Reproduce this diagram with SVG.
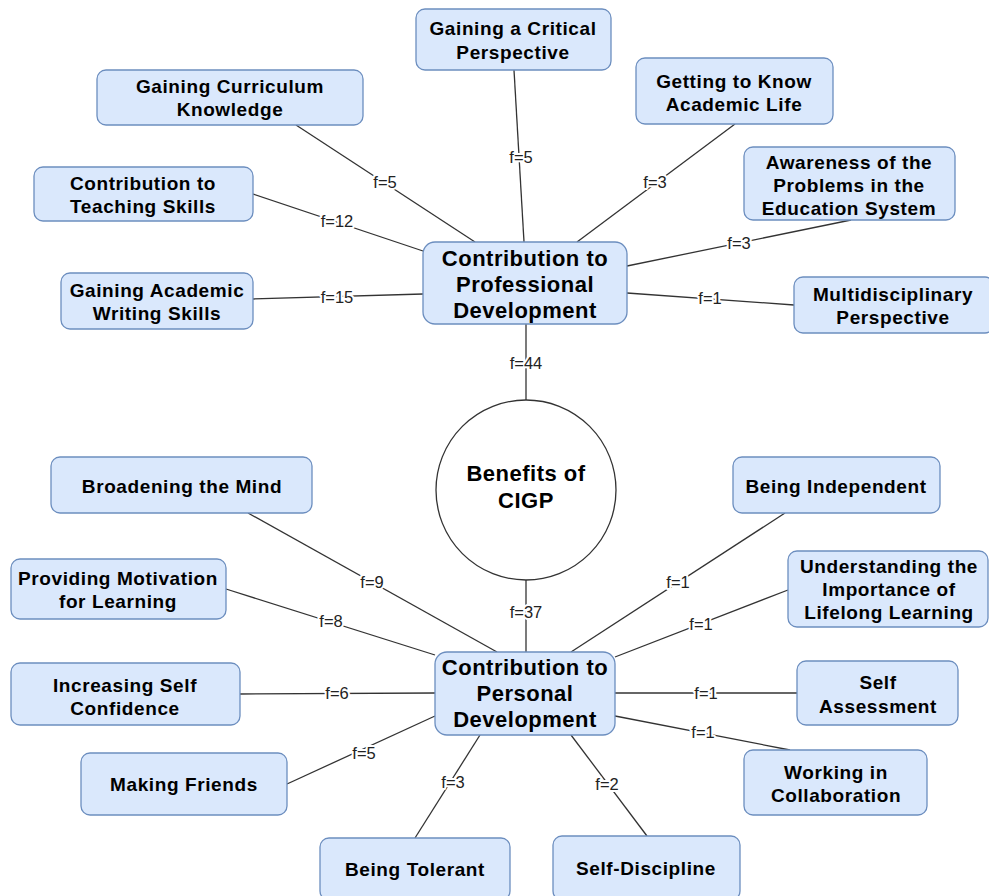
<svg xmlns="http://www.w3.org/2000/svg" width="989" height="896" viewBox="0 0 989 896">
<style>
.n rect{fill:#dae8fc;stroke:#6c8ebf;stroke-width:1.3}
.n text{font-family:"Liberation Sans",Arial,sans-serif;font-weight:bold;font-size:19px;letter-spacing:0.6px;fill:#000;text-anchor:middle}
.c text{font-size:22px;letter-spacing:0.5px}
.e line{stroke:#333;stroke-width:1.3}
.e text{font-family:"Liberation Sans",Arial,sans-serif;font-size:16.5px;fill:#222;text-anchor:middle;stroke:#fff;stroke-width:4px;paint-order:stroke;stroke-linejoin:round}
</style>
<rect width="989" height="896" fill="#fff"/>
<g class="e" id="connectors">
<line x1="514" y1="70" x2="524" y2="242"/>
<line x1="296" y1="125" x2="475" y2="242"/>
<line x1="735" y1="124" x2="577" y2="242"/>
<line x1="253" y1="194" x2="423" y2="251"/>
<line x1="851" y1="220" x2="627" y2="266"/>
<line x1="253" y1="299" x2="423" y2="294"/>
<line x1="794" y1="305" x2="627" y2="293"/>
<line x1="526" y1="324" x2="526" y2="403"/>
<line x1="526" y1="577" x2="526" y2="652"/>
<line x1="248" y1="513" x2="497" y2="652"/>
<line x1="226" y1="589" x2="435" y2="655"/>
<line x1="240" y1="694" x2="435" y2="693"/>
<line x1="287" y1="784" x2="435" y2="716"/>
<line x1="415" y1="838" x2="480" y2="735"/>
<line x1="647" y1="836" x2="571" y2="735"/>
<line x1="790" y1="750" x2="615" y2="716"/>
<line x1="797" y1="693" x2="615" y2="693"/>
<line x1="788" y1="590" x2="615" y2="657"/>
<line x1="785" y1="513" x2="571" y2="652"/>
<text x="521" y="163">f=5</text>
<text x="385" y="188">f=5</text>
<text x="655" y="188">f=3</text>
<text x="337" y="227">f=12</text>
<text x="739" y="249">f=3</text>
<text x="337" y="303">f=15</text>
<text x="710" y="304">f=1</text>
<text x="526" y="369">f=44</text>
<text x="526" y="618">f=37</text>
<text x="372" y="588">f=9</text>
<text x="331" y="627">f=8</text>
<text x="337" y="699">f=6</text>
<text x="364" y="759">f=5</text>
<text x="453" y="788">f=3</text>
<text x="607" y="790">f=2</text>
<text x="703" y="738">f=1</text>
<text x="706" y="699">f=1</text>
<text x="701" y="630">f=1</text>
<text x="678" y="588">f=1</text>
</g>
<g class="n c" id="professional"><rect x="423" y="242" width="204" height="82" rx="12"/><text x="525" y="266">Contribution to</text><text x="525" y="292">Professional</text><text x="525" y="318">Development</text></g>
<g class="n c" id="personal"><rect x="435" y="652" width="180" height="83" rx="12"/><text x="525" y="675">Contribution to</text><text x="525" y="701">Personal</text><text x="525" y="727">Development</text></g>
<g class="n c" id="benefits"><circle cx="526" cy="490" r="90" fill="#fff" stroke="#333" stroke-width="1.3"/><text x="526" y="481">Benefits of</text><text x="526" y="508">CIGP</text></g>
<g class="n" id="critical"><rect x="416" y="9" width="195" height="61" rx="9"/><text x="513" y="35">Gaining a Critical</text><text x="513" y="59">Perspective</text></g>
<g class="n" id="curriculum"><rect x="97" y="70" width="266" height="55" rx="9"/><text x="230" y="93">Gaining Curriculum</text><text x="230" y="116">Knowledge</text></g>
<g class="n" id="academic-life"><rect x="636" y="58" width="197" height="66" rx="9"/><text x="734" y="88">Getting to Know</text><text x="734" y="111">Academic Life</text></g>
<g class="n" id="teaching"><rect x="34" y="167" width="219" height="54" rx="9"/><text x="143" y="190">Contribution to</text><text x="143" y="213">Teaching Skills</text></g>
<g class="n" id="awareness"><rect x="744" y="147" width="211" height="73" rx="9"/><text x="849" y="169">Awareness of the</text><text x="849" y="192">Problems in the</text><text x="849" y="215">Education System</text></g>
<g class="n" id="writing"><rect x="61" y="273" width="192" height="56" rx="9"/><text x="157" y="297">Gaining Academic</text><text x="157" y="320">Writing Skills</text></g>
<g class="n" id="multidisciplinary"><rect x="794" y="277" width="200" height="56" rx="9"/><text x="893" y="301">Multidisciplinary</text><text x="893" y="324">Perspective</text></g>
<g class="n" id="broadening"><rect x="51" y="457" width="261" height="56" rx="9"/><text x="182" y="493">Broadening the Mind</text></g>
<g class="n" id="independent"><rect x="733" y="457" width="207" height="56" rx="9"/><text x="836" y="493">Being Independent</text></g>
<g class="n" id="motivation"><rect x="11" y="559" width="215" height="60" rx="9"/><text x="118" y="585">Providing Motivation</text><text x="118" y="608">for Learning</text></g>
<g class="n" id="lifelong"><rect x="788" y="551" width="200" height="76" rx="9"/><text x="889" y="573">Understanding the</text><text x="889" y="596">Importance of</text><text x="889" y="619">Lifelong Learning</text></g>
<g class="n" id="confidence"><rect x="11" y="663" width="229" height="62" rx="9"/><text x="125" y="692">Increasing Self</text><text x="125" y="715">Confidence</text></g>
<g class="n" id="assessment"><rect x="797" y="661" width="161" height="64" rx="9"/><text x="878" y="689">Self</text><text x="878" y="713">Assessment</text></g>
<g class="n" id="friends"><rect x="81" y="753" width="206" height="62" rx="9"/><text x="184" y="791">Making Friends</text></g>
<g class="n" id="collaboration"><rect x="744" y="750" width="183" height="65" rx="9"/><text x="836" y="779">Working in</text><text x="836" y="802">Collaboration</text></g>
<g class="n" id="tolerant"><rect x="320" y="838" width="190" height="62" rx="9"/><text x="415" y="876">Being Tolerant</text></g>
<g class="n" id="discipline"><rect x="553" y="836" width="187" height="64" rx="9"/><text x="646" y="875">Self-Discipline</text></g>
</svg>
